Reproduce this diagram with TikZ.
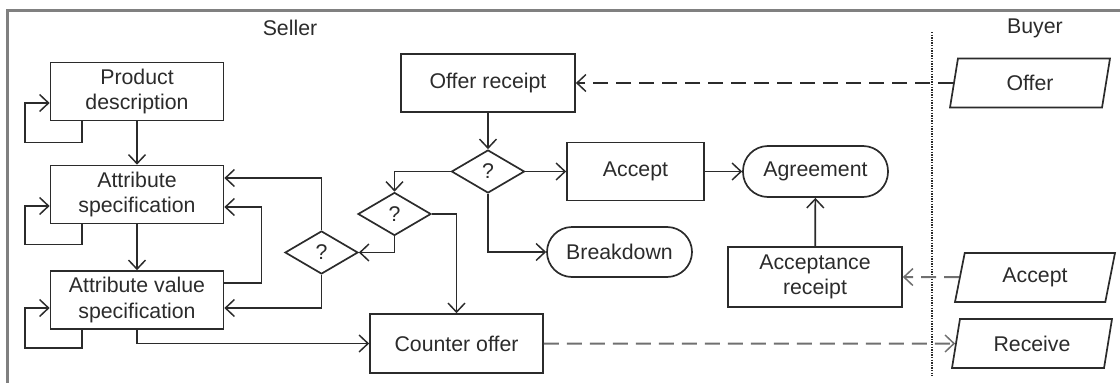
\documentclass[tikz,border=0pt]{standalone}
\usepackage{fontspec}
\setmainfont{Liberation Sans}
\usetikzlibrary{arrows.meta,shapes.geometric,calc}
\definecolor{ink}{HTML}{2B2B2B}
\definecolor{frame}{HTML}{808080}
\definecolor{dashg}{HTML}{707070}
\begin{document}
\begin{tikzpicture}[x=1pt,y=-1pt,
  font=\fontsize{21.3}{25.5}\selectfont, text=ink,
  every node/.style={inner sep=0pt, align=center},
  box/.style={draw=ink, line width=1.7pt, minimum width=173pt, minimum height=58pt},
  term/.style={draw=ink, line width=1.7pt, minimum width=145pt, minimum height=51pt, rounded corners=25pt},
  dec/.style={draw=ink, line width=1.7pt, diamond, aspect=1.7, minimum width=73pt, minimum height=43pt},
  io/.style={draw=ink, line width=1.7pt, trapezium, trapezium left angle=63, trapezium right angle=117,
             trapezium stretches body, minimum width=160pt, minimum height=49pt},
  arr/.style={draw=ink, line width=1.7pt, -{Straight Barb[length=9pt,width=17pt,line width=1.5pt]}},
  dasharr/.style={arr, line width=2pt, dash pattern=on 15pt off 8pt},
  lane/.style={font=\fontsize{21.3}{25.5}\selectfont}]
\useasboundingbox (0,0) rectangle (1120,383);
\draw[frame, line width=3pt] (7,400) -- (7,10) -- (1130,10);
\draw[ink, line width=1.2pt, dash pattern=on 1.3pt off 1.3pt] (932,32) -- (932,376);
\node[lane] (seller) at (290,28) {Seller};
\node[lane] (buyer) at (1035,28) {Buyer};
% seller nodes
\node[box] (pd) at (137,91.5) {Product\\description};
\node[box] (as) at (137,194.5) {Attribute\\specification};
\node[box] (avs) at (137,300) {Attribute value\\specification};
\node[box, minimum width=174pt] (offr) at (488,83) {Offer receipt};
\node[dec] (d3) at (488,171.5) {?};
\node[dec] (d2) at (394.5,214) {?};
\node[dec] (d1) at (321.5,252.5) {?};
\node[box, minimum width=137pt] (acc) at (635.5,171.5) {Accept};
\node[term] (agr) at (815.5,171.5) {Agreement};
\node[term, minimum height=50pt] (brk) at (619.5,252) {Breakdown};
\node[box, minimum height=59pt] (co) at (456.5,343.5) {Counter offer};
\node[box, minimum width=174pt, minimum height=60pt] (ar) at (815,277) {Acceptance\\receipt};
% buyer nodes
\node[io] (bo) at (1030,83) {Offer};
\node[io] (ba) at (1035,277.5) {Accept};
\node[io] (br) at (1032,343.5) {Receive};
% self loops
\draw[arr] ($(pd.south west)+(32,0)$) -- ++(0,21) -| ($(pd.west)+(-25,11.5)$) -- ($(pd.west)+(0,11.5)$);
\draw[arr] ($(as.south west)+(32,0)$) -- ++(0,20) -| ($(as.west)+(-25,11.5)$) -- ($(as.west)+(0,11.5)$);
\draw[arr] ($(avs.south west)+(32,0)$) -- ++(0,18) -| ($(avs.west)+(-25,8)$) -- ($(avs.west)+(0,8)$);
% flow
\draw[arr] (pd) -- (as);
\draw[arr] (as) -- (avs);
\draw[arr] ($(avs.east)+(0,-17)$) -| ($(as.east)+(37,12.5)$) -- ($(as.east)+(0,12.5)$);
\draw[arr] (d1.north) |- ($(as.east)+(0,-16.5)$);
\draw[arr] (d1.south) |- ($(avs.east)+(0,8)$);
\draw[arr] (d2.south) |- (d1.east);
\draw[arr] (d2.east) -| (co.north);
\draw[arr] (d3.west) -| (d2.north);
\draw[arr] (d3.east) -- (acc.west |- d3.east);
\draw[arr] (d3.south) |- (brk.west);
\draw[arr] (offr) -- (d3);
\draw[arr] (acc.east) -- (agr.west |- acc.east);
\draw[arr] (ar) -- (agr);
\draw[arr] (avs.south) |- (co.west);
% messages
\draw[dasharr] (bo) -- (offr.east);
\draw[dasharr, draw=dashg] (ba) -- (ar.east);
\draw[dasharr, draw=dashg] (co.east) -- (br);
\end{tikzpicture}
\end{document}
